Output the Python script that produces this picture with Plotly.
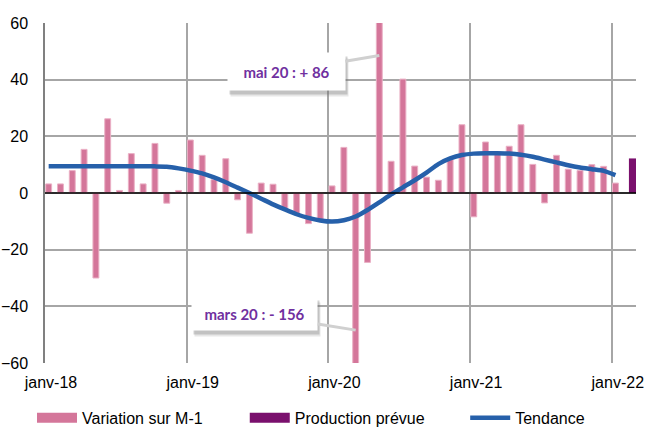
import plotly.graph_objects as go

# ---- data (monthly, janv-18 .. janv-22) ----
variation_m1 = [3.2, 3.2, 7.9, 15.4, -30.0, 26.2, 0.9, 13.9, 3.2, 17.5, -3.6, 0.9,
                18.7, 13.3, 4.7, 12.1, -2.4, -14.2, 3.5, 3.1, -6.0, -7.5, -10.8, -9.5,
                2.5, 16.1, -156.0, -24.5, 86.0, 11.2, 40.2, 9.5, 5.6, 4.5, 11.8, 24.1,
                -8.4, 18.0, 14.5, 16.5, 24.1, 10.1, -3.5, 13.3, 8.4, 7.9, 10.0, 9.4,
                3.5]
tendance = [9.4, 9.4, 9.4, 9.4, 9.4, 9.4, 9.4, 9.4, 9.4, 9.4, 9.3, 8.7,
            7.9, 6.9, 5.5, 3.8, 1.9, 0.0, -2.0, -4.0, -5.8, -7.5, -8.8, -9.7,
            -10.1, -9.6, -8.3, -6.0, -3.3, -0.5, 2.0, 4.5, 7.2, 10.2, 12.2, 13.4,
            13.9, 14.0, 14.0, 13.9, 13.5, 12.8, 11.8, 10.8, 9.8, 9.0, 8.4, 7.8,
            6.3]
production_prevue = [12.2]
production_month = [49]
tick_months = [0, 12, 24, 36, 48]
tick_labels = ["janv-18", "janv-19", "janv-20", "janv-21", "janv-22"]
callouts = [
    {"month": 28, "y": 48.5, "text": "mai 20 : + 86", "ax": -93, "ay": 15.5, "w": 113, "h": 33},
    {"month": 26, "y": -48.4, "text": "mars 20 : - 156", "ax": -101, "ay": -16.5, "w": 121, "h": 29},
]

months = list(range(len(variation_m1)))
bar_center = [m + 0.31 for m in months]

PINK = "#D4769A"
PURPLE = "#7A106D"
BLUE = "#2660AA"

fig = go.Figure()
fig.add_trace(go.Bar(x=months, y=variation_m1, width=0.5, offset=0.06,
                     marker=dict(color=PINK, line=dict(color="#EAB0C5", width=1)),
                     legendgroup="var", showlegend=False, name="Variation sur M-1"))
fig.add_trace(go.Bar(x=production_month, y=production_prevue, width=0.6, offset=0.45,
                     marker=dict(color=PURPLE, line=dict(width=0)),
                     legendgroup="prod", showlegend=False, name="Production prévue"))
fig.add_trace(go.Scatter(x=bar_center, y=tendance, mode="lines",
                         line=dict(color=BLUE, width=4.5, shape="spline", smoothing=0.6),
                         showlegend=False, legendgroup="tend", name="Tendance"))
# legend entries (one legend each, so they can sit where the reference has them)
fig.add_trace(go.Scatter(x=[None], y=[None], mode="lines", line=dict(color=PINK, width=12),
                         legendgroup="var", name="Variation sur M-1", legend="legend"))
fig.add_trace(go.Scatter(x=[None], y=[None], mode="lines", line=dict(color=PURPLE, width=12),
                         legendgroup="prod", name="Production prévue", legend="legend2"))
fig.add_trace(go.Scatter(x=[None], y=[None], mode="lines", line=dict(color=BLUE, width=4.5),
                         legendgroup="tend", name="Tendance", legend="legend3"))

# zero line drawn over the bars, as in the reference
fig.add_hline(y=0, line=dict(color="black", width=1.5), layer="above")

for c in callouts:
    common = dict(x=c["month"] + 0.31, y=c["y"], xref="x", yref="y", ax=c["ax"], ay=c["ay"],
                  width=c["w"], height=c["h"], borderpad=2, showarrow=True, arrowhead=0,
                  standoff=0)
    # soft shadow
    fig.add_annotation(text=" ", bgcolor="rgba(120,120,120,0.18)", arrowcolor="rgba(0,0,0,0)",
                       xshift=3, yshift=-6, **common)
    fig.add_annotation(text=" ", bgcolor="rgba(110,110,110,0.30)", arrowcolor="rgba(0,0,0,0)",
                       xshift=2, yshift=-4, **common)
    fig.add_annotation(text="<b>" + c["text"] + "</b>", bgcolor="white",
                       font=dict(family="Lato", size=15, color="#7030A0"),
                       arrowcolor="#D0D0D0", arrowwidth=3, **common)

leg = dict(orientation="h", xanchor="left", yref="container", y=0.068, yanchor="top",
           itemwidth=40, font=dict(size=16), bgcolor="rgba(0,0,0,0)")
fig.update_layout(
    width=645, height=430,
    margin=dict(l=45, r=9, t=23, b=67, autoexpand=False),
    plot_bgcolor="white", paper_bgcolor="white",
    barmode="overlay",
    font=dict(family="Liberation Sans, Arial, sans-serif", size=16, color="black"),
    legend=dict(x=-0.022, **leg),
    legend2=dict(x=0.338, **leg),
    legend3=dict(x=0.711, **leg),
)
fig.update_xaxes(range=[0, 50.05], tickmode="array", tickvals=tick_months, ticktext=tick_labels,
                 showgrid=True, gridcolor="#A6A6A6", gridwidth=1.5, zeroline=False,
                 ticks="", ticklabelstandoff=8, ticklabelshift=6, automargin=False)
fig.update_yaxes(range=[-60, 60], dtick=20, tick0=0, showgrid=True, gridcolor="#A6A6A6",
                 gridwidth=1.5, zeroline=False,
                 showline=True, linecolor="#808080", linewidth=1.5, ticks="",
                 ticklabelstandoff=12, automargin=False)

fig.write_html("out.html", config={"displayModeBar": False},
               post_script="document.body.style.margin='0';document.body.style.overflow='hidden';")
